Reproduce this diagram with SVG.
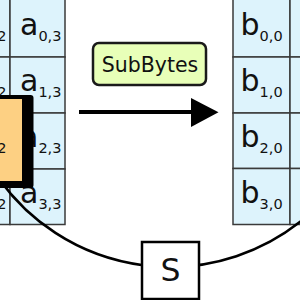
<svg xmlns="http://www.w3.org/2000/svg" width="300" height="300" viewBox="0 0 300 300">
<style>
.cell{fill:#ddf3fc;stroke:#3a3a3a;stroke-width:1.5}
.t{font-family:"DejaVu Sans",Verdana,sans-serif;font-size:30px;fill:#111}
.s{font-size:14.5px}
.lbl{font-family:"DejaVu Sans",Verdana,sans-serif;fill:#111}
</style>
<rect width="300" height="300" fill="#ffffff"/>
<g id="grid-a">
<g id="a02"><rect class="cell" x="-45" y="-2" width="55" height="59"/><text class="t" x="-35" y="35">a<tspan class="s" dy="6">0,2</tspan></text></g>
<g id="a03"><rect class="cell" x="10" y="-2" width="55" height="59"/><text class="t" x="20" y="35">a<tspan class="s" dy="6">0,3</tspan></text></g>
<g id="a12"><rect class="cell" x="-45" y="57" width="55" height="56"/><text class="t" x="-35" y="91">a<tspan class="s" dy="6">1,2</tspan></text></g>
<g id="a13"><rect class="cell" x="10" y="57" width="55" height="56"/><text class="t" x="20" y="91">a<tspan class="s" dy="6">1,3</tspan></text></g>
<g id="a22"><rect class="cell" x="-45" y="113" width="55" height="56"/></g>
<g id="a23"><rect class="cell" x="10" y="113" width="55" height="56"/><text class="t" x="20" y="147">a<tspan class="s" dy="6">2,3</tspan></text></g>
<g id="a32"><rect class="cell" x="-45" y="169" width="55" height="55.5"/><text class="t" x="-35" y="203">a<tspan class="s" dy="6">3,2</tspan></text></g>
<g id="a33"><rect class="cell" x="10" y="169" width="55" height="55.5"/><text class="t" x="20" y="203">a<tspan class="s" dy="6">3,3</tspan></text></g>
</g>
<g id="grid-b">
<g id="b00"><rect class="cell" x="233" y="-2" width="57" height="59"/><text class="t" x="240.5" y="35">b<tspan class="s" dy="6">0,0</tspan></text></g>
<g id="b01"><rect class="cell" x="290" y="-2" width="57" height="59"/></g>
<g id="b10"><rect class="cell" x="233" y="57" width="57" height="56"/><text class="t" x="240.5" y="91">b<tspan class="s" dy="6">1,0</tspan></text></g>
<g id="b11"><rect class="cell" x="290" y="57" width="57" height="56"/></g>
<g id="b20"><rect class="cell" x="233" y="113" width="57" height="55.5"/><text class="t" x="240.5" y="147">b<tspan class="s" dy="6">2,0</tspan></text></g>
<g id="b21"><rect class="cell" x="290" y="113" width="57" height="55.5"/></g>
<g id="b30"><rect class="cell" x="233" y="168.5" width="57" height="56"/><text class="t" x="240.5" y="203">b<tspan class="s" dy="6">3,0</tspan></text></g>
<g id="b31"><rect class="cell" x="290" y="168.5" width="57" height="56"/></g>
</g>
<g id="connectors" fill="none" stroke="#000">
<path d="M -5 173 A 210 210 0 0 0 310 213.5" stroke-width="2.6"/>
<line x1="79" y1="112" x2="194" y2="112" stroke-width="4"/>
<polygon points="191,98 218.5,112.3 191,127" fill="#000" stroke="none"/>
</g>
<g id="highlight">
<rect x="-63" y="95" width="96.5" height="93" rx="3" fill="#000"/>
<rect x="-59" y="99" width="81" height="82" fill="#fdd083"/>
<text class="t" x="-35" y="147">a<tspan class="s" dy="6">2,2</tspan></text>
</g>
<g id="subbytes">
<rect x="93" y="43" width="113" height="42" rx="6" fill="#e8ffb8" stroke="#1a1a1a" stroke-width="2.5"/>
<text class="lbl" x="150" y="72" font-size="20.5" text-anchor="middle">SubBytes</text>
</g>
<g id="sbox">
<rect x="142" y="242" width="57" height="57" fill="#ffffff" stroke="#000" stroke-width="2.5"/>
<text class="lbl" x="170.5" y="281" font-size="31.5" text-anchor="middle">S</text>
</g>
</svg>
